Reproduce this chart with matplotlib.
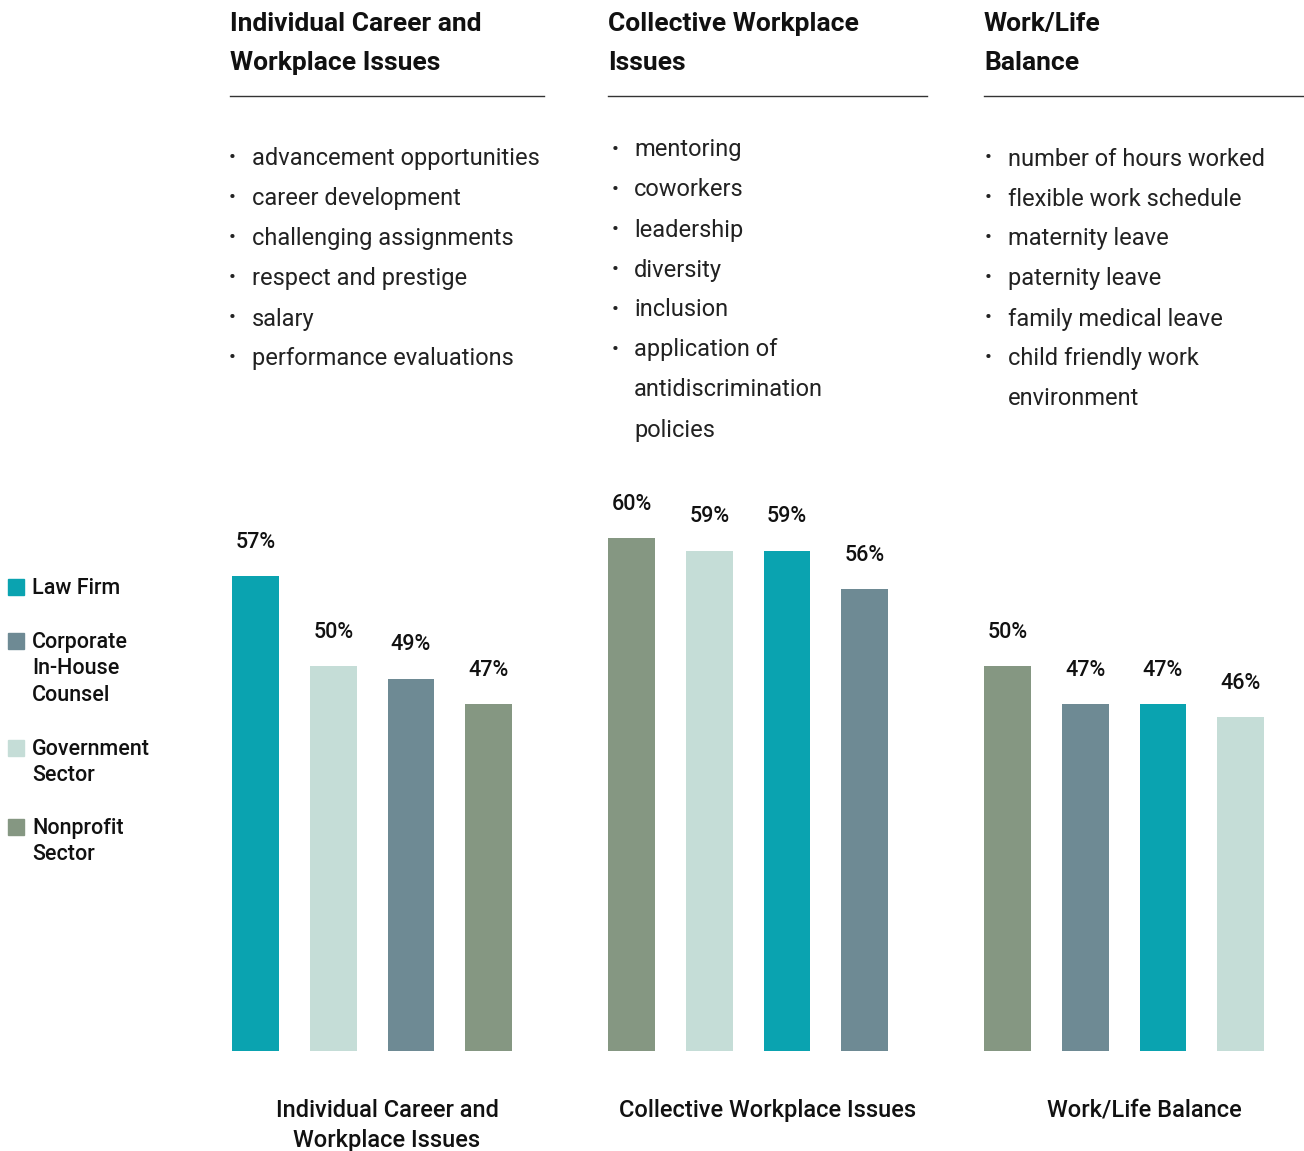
import numpy as np
import matplotlib
matplotlib.use("Agg")
from matplotlib import pyplot as plt
from matplotlib.patches import Rectangle

plt.rcParams['font.family'] = ['Roboto', 'DejaVu Sans']

W, H = 1304, 1151

sectors = ["Law Firm", "Corporate\nIn-House\nCounsel", "Government\nSector", "Nonprofit\nSector"]
colors = ["#0aa3b0", "#6e8a94", "#c5ddd7", "#859782"]

groups = ["Individual Career and\nWorkplace Issues", "Collective Workplace Issues", "Work/Life Balance"]
headers = ["Individual Career and\nWorkplace Issues", "Collective Workplace\nIssues", "Work/Life\nBalance"]

# bar order within each group (index into sectors) and values
order = [[0, 2, 1, 3], [3, 2, 0, 1], [3, 1, 0, 2]]
values = [[57, 50, 49, 47], [60, 59, 59, 56], [50, 47, 47, 46]]

bullets = [
    ["advancement opportunities", "career development", "challenging assignments",
     "respect and prestige", "salary", "performance evaluations"],
    ["mentoring", "coworkers", "leadership", "diversity", "inclusion",
     "application of\nantidiscrimination\npolicies"],
    ["number of hours worked", "flexible work schedule", "maternity leave",
     "paternity leave", "family medical leave", "child friendly work\nenvironment"],
]

fig = plt.figure(figsize=(W / 100, H / 100), dpi=100)


def px(x, y):
    return x / W, 1 - y / H


# bar area: x unit = one bar slot, y from 20% baseline
unit = 77.7
gstep = 376 / unit
x0_px = 255.5
ax_left, ax_right, ax_top, ax_bot = 200, 1304, 480, 1051
ax = fig.add_axes([ax_left / W, 1 - ax_bot / H, (ax_right - ax_left) / W, (ax_bot - ax_top) / H])
ax.set_xlim((ax_left - x0_px) / unit, (ax_right - x0_px) / unit)
ax.set_ylim(19.9, 19.9 + (ax_bot - ax_top) / 12.79)
ax.axis("off")

label_cx = [387, 768, 1144]
for g in range(3):
    for j in range(4):
        xc = g * gstep + j
        v = values[g][j]
        ax.bar(xc, v, width=0.6, color=colors[order[g][j]], bottom=0)
        ax.annotate(f"{v}%", (xc, v), xytext=(0, 34), textcoords="offset pixels",
                    ha="center", va="center", fontsize=15.5, fontweight="medium",
                    color="#111111")
    # group label under the bars
    fig.text(*px(label_cx[g], 1099), groups[g], ha="center", va="top", fontsize=17,
             fontweight="medium", color="#111111", linespacing=1.38)

# column headers, rules and bullet lists
head_x = [230, 608, 984]
rule_end = [544, 927, 1304]
list_y0 = [159, 150, 159]
bullet_x = [229, 612, 985]
text_x = [252, 634, 1008]
for g in range(3):
    fig.text(*px(head_x[g], 12), headers[g], ha="left", va="top", fontsize=19,
             fontweight="bold", color="#111111", linespacing=1.8)
    fig.add_artist(plt.Line2D([head_x[g] / W, rule_end[g] / W], [1 - 96 / H] * 2,
                              color="#333333", lw=1))
    row = 0
    for item in bullets[g]:
        y = list_y0[g] + 40 * row
        fig.text(*px(bullet_x[g], y - 1), "•", ha="left", va="center", fontsize=15,
                 color="#222222")
        for line in item.split("\n"):
            fig.text(*px(text_x[g], list_y0[g] + 40 * row), line, ha="left",
                     va="center", fontsize=17, fontweight="normal", color="#222222")
            row += 1

# legend
leg_y = [587, 641, 748, 827]
for k in range(4):
    fig.add_artist(Rectangle(px(8, leg_y[k] + 8), 16 / W, 16 / H, color=colors[k],
                             transform=fig.transFigure))
    fig.text(*px(32, leg_y[k] - 9), sectors[k], ha="left", va="top", fontsize=15.5,
             fontweight="medium", color="#111111", linespacing=1.33)

fig.savefig("out.png", dpi=100)
